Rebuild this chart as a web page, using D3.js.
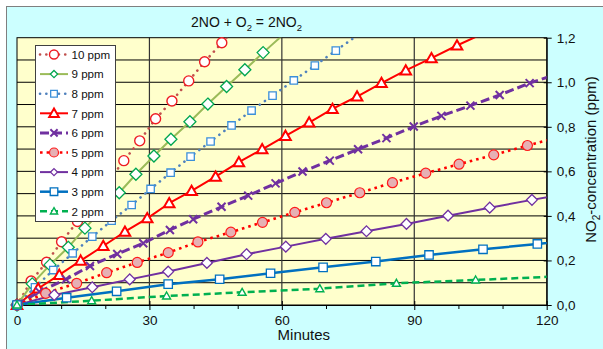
<!DOCTYPE html>
<html>
<head>
<meta charset="utf-8">
<script src="https://cdn.jsdelivr.net/npm/d3@7"></script>
<style>
  body { margin: 0; background: #fff; }
  svg { display: block; font-family: "Liberation Sans", Arial, sans-serif; }
</style>
</head>
<body>
<svg id="chart" width="603" height="349"></svg>
<script>
// time in minutes, NO2 in ppm, one pair per starting NO level
// (last point of each lies just past the frame, so the line runs to the edge)
const t10 = [0, 3.2, 6.7, 10.1, 13.7, 17.2, 20.7, 24.2, 27.8, 31.4, 35.1, 38.9, 42.5, 46.4, 50.1];
const c10 = [0, 0.108, 0.192, 0.284, 0.375, 0.462, 0.555, 0.648, 0.737, 0.836, 0.916, 1.006, 1.092, 1.177, 1.258];
const t9 = [0, 3.46, 7.47, 11.61, 15.39, 19.24, 23.16, 26.94, 31.02, 34.87, 39.17, 43.24, 47.48, 51.62, 55.76, 60.0];
const c9 = [0, 0.095, 0.180, 0.259, 0.345, 0.425, 0.504, 0.587, 0.669, 0.744, 0.823, 0.902, 0.981, 1.056, 1.133, 1.208];
const t8 = [0, 4.08, 8.22, 12.61, 17.05, 21.44, 25.97, 30.27, 34.8, 39.33, 43.85, 48.6, 53.14, 57.89, 62.71, 67.47, 72.22, 77.0];
const c8 = [0, 0.0795, 0.157, 0.232, 0.307, 0.379, 0.449, 0.521, 0.594, 0.666, 0.734, 0.806, 0.873, 0.94, 1.008, 1.075, 1.142, 1.209];
const t7 = [0, 4.8, 9.58, 14.42, 19.54, 24.45, 29.5, 34.48, 39.55, 44.99, 50.26, 55.54, 60.83, 66.18, 71.47, 77.04, 82.57, 88.07, 93.89, 99.68, 105.5];
const c7 = [0, 0.074, 0.135, 0.199, 0.265, 0.329, 0.389, 0.457, 0.512, 0.576, 0.641, 0.699, 0.759, 0.819, 0.88, 0.936, 0.996, 1.053, 1.108, 1.165, 1.218];
const t6 = [0, 5.05, 11.09, 16.53, 22.71, 28.6, 34.64, 39.91, 46.34, 52.37, 58.57, 64.68, 70.86, 77.27, 83.69, 89.88, 96.15, 102.72, 109.35, 116.14, 122.9];
const c6 = [0, 0.06, 0.115, 0.175, 0.229, 0.277, 0.337, 0.385, 0.441, 0.491, 0.546, 0.599, 0.648, 0.699, 0.749, 0.801, 0.849, 0.895, 0.943, 0.996, 1.04];
const t5 = [0, 6.5, 13.52, 20.31, 27.24, 34.26, 40.98, 48.45, 55.62, 62.94, 70.12, 77.65, 85.06, 92.6, 100.14, 108.0, 115.63, 123.4];
const c5 = [0, 0.0526, 0.0975, 0.145, 0.191, 0.235, 0.283, 0.327, 0.371, 0.416, 0.459, 0.504, 0.549, 0.592, 0.632, 0.674, 0.716, 0.757];
const t4 = [0, 8.44, 17.05, 25.54, 34.25, 43.02, 52.0, 60.9, 69.96, 79.17, 88.23, 97.65, 107.09, 116.66, 126.3];
const c4 = [0, 0.045, 0.0795, 0.115, 0.15, 0.189, 0.228, 0.262, 0.297, 0.331, 0.364, 0.401, 0.437, 0.472, 0.505];
const t3 = [0, 11.25, 22.57, 34.25, 45.91, 57.44, 69.34, 81.28, 93.34, 105.57, 117.88, 130.2];
const c3 = [0, 0.0328, 0.0615, 0.0935, 0.1155, 0.1425, 0.169, 0.195, 0.2246, 0.25, 0.274, 0.298];
const t2 = [0, 16.91, 33.89, 51.0, 68.6, 85.96, 103.9, 122.0];
const c2 = [0, 0.0193, 0.0404, 0.057, 0.0732, 0.0975, 0.1123, 0.128];

const seriesLabels = ["10 ppm", "9 ppm", "8 ppm", "7 ppm", "6 ppm", "5 ppm", "4 ppm", "3 ppm", "2 ppm"];
const xTicks = [0, 30, 60, 90, 120];
const xMinor = [10, 20, 40, 50, 70, 80, 100, 110];
const yTicks = [0, 0.2, 0.4, 0.6, 0.8, 1.0, 1.2];
const yGrid = [0.1, 0.2, 0.3, 0.4, 0.5, 0.6, 0.7, 0.8, 0.9, 1.0, 1.1];

const zip = (t, c) => t.map((d, i) => [d, c[i]]);

// styling per series, same order as the legend
const series = [
  { name: seriesLabels[0], data: zip(t10, c10), line: "#c0504d", lw: 2.6, dash: "0.1 6.2", cap: "round", mk: "circle", ms: 5, mStroke: "#ee1c24", mFill: "#fff", mw: 1.4 },
  { name: seriesLabels[1], data: zip(t9, c9), line: "#9bbb59", lw: 2, dash: null, cap: "butt", mk: "diamond", ms: 6, mStroke: "#00a650", mFill: "#fff", mw: 1.3, legScale: 0.6 },
  { name: seriesLabels[2], data: zip(t8, c8), line: "#4f81bd", lw: 2.6, dash: "0.1 6.2", cap: "round", mk: "square", ms: 3.7, mStroke: "#3b8fd9", mFill: "#fff", mw: 1.3 },
  { name: seriesLabels[3], data: zip(t7, c7), line: "#ff0000", lw: 2, dash: null, cap: "butt", mk: "triangle", ms: 5.3, mStroke: "#ff0000", mFill: "#fff", mw: 2 },
  { name: seriesLabels[4], data: zip(t6, c6), line: "#7030a0", lw: 3, dash: "9 4", cap: "butt", mk: "x", ms: 4, mStroke: "#7030a0", mFill: "none", mw: 2 },
  { name: seriesLabels[5], data: zip(t5, c5), line: "#ff0000", lw: 2.6, dash: "2.6 4", cap: "butt", mk: "circle", ms: 5, mStroke: "#ff1a1a", mFill: "#e6b0b4", mw: 1.2 },
  { name: seriesLabels[6], data: zip(t4, c4), line: "#7030a0", lw: 2, dash: null, cap: "butt", mk: "diamond", ms: 5.4, mStroke: "#7030a0", mFill: "#fff", mw: 1.3, legScale: 0.65 },
  { name: seriesLabels[7], data: zip(t3, c3), line: "#0070c0", lw: 2.5, dash: null, cap: "butt", mk: "square", ms: 4.2, mStroke: "#0070c0", mFill: "#fff", mw: 1.3 },
  { name: seriesLabels[8], data: zip(t2, c2), line: "#00b050", lw: 2.5, dash: "7 4", cap: "butt", mk: "triangle", ms: 4, mStroke: "#00b050", mFill: "#fff", mw: 1.4 }
];

const svg = d3.select("#chart");

// outer chart area
svg.append("rect").attr("x", 6.5).attr("y", 6.5).attr("width", 700).attr("height", 400)
  .attr("fill", "#ccffff").attr("stroke", "#7f7f7f");

const x = d3.scaleLinear().domain([0, 120]).range([17, 546.7]);
const y = d3.scaleLinear().domain([0, 1.2]).range([305, 37.7]);

// plot area
svg.append("rect")
  .attr("x", x(0)).attr("y", y(1.2))
  .attr("width", x(120) - x(0)).attr("height", y(0) - y(1.2))
  .attr("fill", "#ffffcc");

// grid
svg.append("g").selectAll("line").data(yGrid).enter().append("line")
  .attr("x1", x(0)).attr("x2", x(120))
  .attr("y1", d => y(d)).attr("y2", d => y(d))
  .attr("stroke", "#000").attr("stroke-width", 1);
svg.append("g").selectAll("line").data([30, 60, 90]).enter().append("line")
  .attr("x1", d => x(d)).attr("x2", d => x(d))
  .attr("y1", y(0)).attr("y2", y(1.2))
  .attr("stroke", "#333").attr("stroke-width", 1.2);

svg.append("rect")
  .attr("x", x(0)).attr("y", y(1.2))
  .attr("width", x(120) - x(0)).attr("height", y(0) - y(1.2))
  .attr("fill", "none").attr("stroke", "#000").attr("stroke-width", 1);

// bottom axis
const xAxis = svg.append("g")
  .attr("transform", "translate(0," + y(0) + ")")
  .call(d3.axisBottom(x).tickValues(xTicks).tickSize(5).tickPadding(5).tickSizeOuter(0));
xAxis.select(".domain").attr("stroke", "#000");
xAxis.selectAll(".tick line").attr("y1", -4).attr("stroke", "#000");
xAxis.selectAll("text").attr("font-size", 13.5).attr("fill", "#111").attr("font-family", null);

const xMinorAxis = svg.append("g")
  .attr("transform", "translate(0," + y(0) + ")")
  .call(d3.axisBottom(x).tickValues(xMinor).tickSize(4).tickFormat("").tickSizeOuter(0));
xMinorAxis.select(".domain").remove();
xMinorAxis.selectAll(".tick line").attr("stroke", "#000");

// right axis
const yAxis = svg.append("g")
  .attr("transform", "translate(" + x(120) + ",0)")
  .call(d3.axisRight(y).tickValues(yTicks).tickSize(5).tickPadding(5).tickSizeOuter(0)
    .tickFormat(d => d3.format(".1f")(d).replace(".", ",")));
yAxis.select(".domain").attr("stroke", "#000");
yAxis.selectAll(".tick line").attr("x1", -3).attr("stroke", "#000");
yAxis.selectAll("text").attr("font-size", 13.5).attr("fill", "#111").attr("font-family", null);

// lines, clipped to the plot frame
svg.append("clipPath").attr("id", "plotClip").append("rect")
  .attr("x", x(0)).attr("y", y(1.2))
  .attr("width", x(120) - x(0)).attr("height", y(0) - y(1.2));

const line = d3.line().x(d => x(d[0])).y(d => y(d[1]));

function markerPath(type, s) {
  if (type === "circle") {
    const p = d3.path(); p.arc(0, 0, s, 0, 2 * Math.PI); p.closePath(); return p.toString();
  }
  if (type === "diamond") return `M0,${-s}L${s},0L0,${s}L${-s},0Z`;
  if (type === "square") return `M${-s},${-s}h${2 * s}v${2 * s}h${-2 * s}Z`;
  if (type === "triangle") return `M0,${-s}L${s},${s * 0.75}L${-s},${s * 0.75}Z`;
  return `M${-s},${-s}L${s},${s}M${-s},${s}L${s},${-s}`;
}

const plot = svg.append("g");
series.forEach(s => {
  plot.append("path")
    .datum(s.data)
    .attr("clip-path", "url(#plotClip)")
    .attr("d", line)
    .attr("fill", "none")
    .attr("stroke", s.line)
    .attr("stroke-width", s.lw)
    .attr("stroke-dasharray", s.dash)
    .attr("stroke-linecap", s.cap)
    .attr("stroke-linejoin", "round");
});
series.forEach(s => {
  plot.append("g").selectAll("path")
    .data(s.data.filter(d => d[0] <= 120 && d[1] <= 1.2))
    .enter().append("path")
    .attr("transform", d => "translate(" + x(d[0]) + "," + y(d[1]) + ")")
    .attr("d", markerPath(s.mk, s.ms))
    .attr("fill", s.mFill)
    .attr("stroke", s.mStroke)
    .attr("stroke-width", s.mw);
});

// legend
const legend = svg.append("g");
legend.append("rect")
  .attr("x", 35.5).attr("y", 45.5).attr("width", 80).attr("height", 176)
  .attr("fill", "#fff").attr("stroke", "#404040").attr("stroke-width", 1);
series.forEach((s, i) => {
  const ly = 54.5 + i * 19.6;
  legend.append("line")
    .attr("x1", 40).attr("x2", 68).attr("y1", ly).attr("y2", ly)
    .attr("stroke", s.line).attr("stroke-width", s.lw)
    .attr("stroke-dasharray", s.dash).attr("stroke-linecap", s.cap);
  legend.append("path")
    .attr("transform", "translate(54," + ly + ")")
    .attr("d", markerPath(s.mk, s.ms * (s.legScale || 0.9)))
    .attr("fill", s.mFill).attr("stroke", s.mStroke).attr("stroke-width", s.mw);
  legend.append("text")
    .attr("x", 71.5).attr("y", ly + 4.2)
    .attr("font-size", 11.6).attr("fill", "#111")
    .text(s.name);
});

// title
const title = svg.append("text").attr("x", 191).attr("y", 27).attr("font-size", 14).attr("fill", "#111");
title.append("tspan").text("2NO + O");
title.append("tspan").attr("font-size", 9.5).attr("dy", 4).text("2");
title.append("tspan").attr("dy", -4).text(" = 2NO");
title.append("tspan").attr("font-size", 9.5).attr("dy", 4).text("2");

// axis titles
svg.append("text")
  .attr("x", (x(0) + x(120)) / 2 + 22).attr("y", 340)
  .attr("text-anchor", "middle").attr("font-size", 15).attr("fill", "#111")
  .text("Minutes");

const yTitle = svg.append("text")
  .attr("transform", "translate(596,159.5) rotate(-90)")
  .attr("text-anchor", "middle").attr("font-size", 15).attr("fill", "#111");
yTitle.append("tspan").text("NO");
yTitle.append("tspan").attr("font-size", 10).attr("dy", 4).text("2");
yTitle.append("tspan").attr("dy", -4).text("-concentration (ppm)");
</script>
</body>
</html>
